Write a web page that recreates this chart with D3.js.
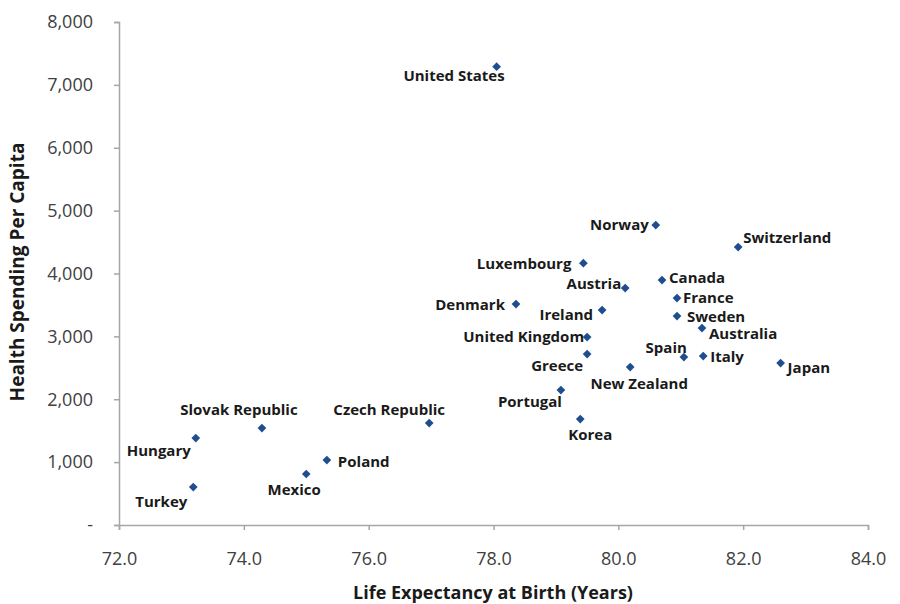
<!DOCTYPE html>
<html>
<head>
<meta charset="utf-8">
<script src="https://cdn.jsdelivr.net/npm/d3@7"></script>
<style>
  body { margin: 0; background: #fff; }
  text { font-family: "Open Sans", "DejaVu Sans", sans-serif; }
</style>
</head>
<body>
<div id="main"><svg width="900" height="604"></svg></div>
<script>
// Chart data
var countries = ["United States", "Norway", "Switzerland", "Luxembourg", "Canada", "Austria",
    "France", "Denmark", "Ireland", "Sweden", "Australia", "United Kingdom", "Greece", "Spain",
    "Italy", "Japan", "New Zealand", "Portugal", "Korea", "Czech Republic", "Slovak Republic",
    "Hungary", "Poland", "Mexico", "Turkey"];
var lifeExpectancy = [78.05, 80.6, 81.92, 79.44, 80.7, 80.11,
    80.94, 78.36, 79.74, 80.94, 81.34, 79.5, 79.5, 81.05,
    81.36, 82.6, 80.19, 79.08, 79.39, 76.97, 74.29,
    73.23, 75.33, 75.0, 73.19];
var spending = [7290, 4770, 4420, 4165, 3895, 3768,
    3609, 3513, 3418, 3323, 3132, 2989, 2719, 2671,
    2687, 2576, 2512, 2146, 1685, 1622, 1542,
    1383, 1033, 811, 604];
var xTicks = [72, 74, 76, 78, 80, 82, 84];
var yTicks = [0, 1000, 2000, 3000, 4000, 5000, 6000, 7000, 8000];

// Label placement (pixel offsets from each marker)
var labelPos = {
    "United States": [8, 9, "end"], "Norway": [-7, 0, "end"], "Switzerland": [5, -9, "start"],
    "Luxembourg": [-12, 1, "end"], "Canada": [7, -2, "start"], "Austria": [-4, -4, "end"],
    "France": [6, 0, "start"], "Denmark": [-11, 1, "end"], "Ireland": [-9, 5, "end"],
    "Sweden": [10, 1, "start"], "Australia": [7, 6, "start"], "United Kingdom": [-3, 0, "end"],
    "Greece": [-4, 12, "end"], "Spain": [3, -9, "end"], "Italy": [7, 1, "start"],
    "Japan": [7, 5, "start"], "New Zealand": [9, 17, "middle"], "Portugal": [1, 12, "end"],
    "Korea": [10, 16, "middle"], "Czech Republic": [-40, -13, "middle"],
    "Slovak Republic": [-23, -18, "middle"], "Hungary": [-5, 13, "end"],
    "Poland": [11, 2, "start"], "Mexico": [-12, 16, "middle"], "Turkey": [-32, 15, "middle"]
};

var svg = d3.select("#main").select("svg");
var margin = {top: 22, left: 119, bottom: 79, right: 32};
var width = +svg.attr("width") - margin.left - margin.right;
var height = +svg.attr("height") - margin.top - margin.bottom;
var g = svg.append("g").attr("transform", "translate(" + margin.left + "," + margin.top + ")");

var xScale = d3.scaleLinear().domain([72, 84]).range([0, width]);
var yScale = d3.scaleLinear().domain([0, 8000]).range([height, 0]);

var axisColor = "#a6a6a6";
var tickColor = "#404040";

// Axes
var xAxis = d3.axisBottom(xScale).tickValues(xTicks).tickSize(5).tickPadding(22)
    .tickFormat(d3.format(".1f"));
var xG = g.append("g").attr("transform", "translate(0," + height + ")").call(xAxis);

var yAxis = d3.axisLeft(yScale).tickValues(yTicks).tickSize(5).tickPadding(21)
    .tickFormat(function(d) { return d === 0 ? "-" : d3.format(",")(d); });
var yG = g.append("g").call(yAxis);

[xG, yG].forEach(function(a) {
    a.select(".domain").attr("stroke", axisColor).attr("stroke-width", 1.5);
    a.selectAll(".tick line").attr("stroke", axisColor).attr("stroke-width", 1.5);
    a.selectAll(".tick text").attr("fill", tickColor).style("font-size", "18px")
        .style("font-family", "'Open Sans', sans-serif");
});

// Axis titles
svg.append("text")
    .attr("x", 493)
    .attr("y", 599)
    .attr("text-anchor", "middle")
    .style("font-size", "18px").style("font-weight", "bold").attr("fill", "#1a1a1a")
    .text("Life Expectancy at Birth (Years)");

svg.append("text")
    .attr("transform", "translate(24,272) rotate(-90)")
    .attr("text-anchor", "middle")
    .style("font-size", "19px").style("font-weight", "bold").attr("fill", "#1a1a1a")
    .text("Health Spending Per Capita");

// Points
var data = countries.map(function(c, i) {
    return {name: c, x: lifeExpectancy[i], y: spending[i]};
});

g.selectAll(".pt")
    .data(data)
    .enter().append("path")
    .attr("class", "pt")
    .attr("d", d3.symbol().type(d3.symbolSquare).size(38))
    .attr("transform", function(d) {
        return "translate(" + xScale(d.x) + "," + yScale(d.y) + ") rotate(45)";
    })
    .attr("fill", "#1f4e8f");

// Labels
g.selectAll(".lbl")
    .data(data)
    .enter().append("text")
    .attr("class", "lbl")
    .attr("x", function(d) { return xScale(d.x) + labelPos[d.name][0]; })
    .attr("y", function(d) { return yScale(d.y) + labelPos[d.name][1]; })
    .attr("dy", "0.35em")
    .attr("text-anchor", function(d) { return labelPos[d.name][2]; })
    .style("font-size", "15px").style("font-weight", "bold").attr("fill", "#1a1a1a")
    .text(function(d) { return d.name; });
</script>
</body>
</html>
